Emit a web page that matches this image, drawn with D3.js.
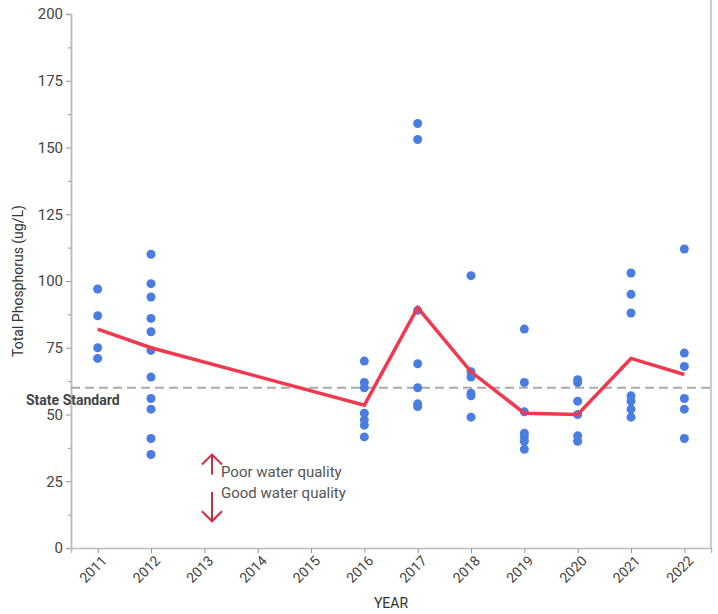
<!DOCTYPE html>
<html><head><meta charset="utf-8">
<script src="https://cdn.jsdelivr.net/npm/d3@7"></script>
<style>body{margin:0;background:#fff}text{font-family:Roboto,"Liberation Sans",sans-serif}</style>
</head><body><svg id="c" width="718" height="614"></svg>
<script>
var years = [2011,2012,2013,2014,2015,2016,2017,2018,2019,2020,2021,2022];
var samples = {
  2011: [97,87,75,71],
  2012: [110,99,94,86,81,74,64,56,52,41,35],
  2016: [70,62,60,50.5,48,46,41.6],
  2017: [159,153,89,69,60,54,53],
  2018: [102,66,64,58,57,49],
  2019: [82,62,51,43,41.6,40,37],
  2020: [63,62,55,50,42,40],
  2021: [103,95,88,57,55,52,49],
  2022: [112,73,68,56,52,41]
};
var meanYears = [2011,2012,2016,2017,2018,2019,2020,2021,2022];
var meanVals = [82,75,53.5,90,66,50.5,50,71,65];
var standard = 60;

var svg = d3.select("#c");
var x = d3.scaleLinear().domain([2010.5,2022.5]).range([71,711]);
var y = d3.scaleLinear().domain([0,200]).range([548,14]);

// axes
var yAx = svg.append("g").attr("transform","translate(71,0)")
  .call(d3.axisLeft(y).tickValues(d3.range(0,201,25)).tickSize(5));
svg.append("g").attr("transform","translate(71,0)")
  .call(d3.axisLeft(y).tickValues(d3.range(12.5,200,25)).tickSize(3).tickFormat(""));
var xAx = svg.append("g").attr("transform","translate(0,548)")
  .call(d3.axisBottom(x).tickValues(years).tickFormat(d3.format("d")).tickSize(5));
svg.selectAll(".domain").attr("stroke","#bbb").attr("stroke-width",1.5);
svg.selectAll(".tick line").attr("stroke","#999");
yAx.selectAll("text").attr("font-size",15).attr("fill","#444");
xAx.selectAll("text").attr("font-size",14).attr("fill","#444")
  .attr("transform","rotate(-45)").attr("text-anchor","end").attr("dx","-0.2em").attr("dy","0.6em");
svg.append("line").attr("x1",711).attr("x2",711).attr("y1",0).attr("y2",548)
  .attr("stroke","#bbb").attr("stroke-width",1.5);

svg.append("text").attr("transform","translate(23,281) rotate(-90)")
  .attr("text-anchor","middle").attr("font-size",14).attr("fill","#333").text("Total Phosphorus (ug/L)");
svg.append("text").attr("x",391).attr("y",608).attr("text-anchor","middle")
  .attr("font-size",14).attr("fill","#333").text("YEAR");

// standard
svg.append("line").attr("x1",71).attr("x2",711).attr("y1",y(standard)).attr("y2",y(standard))
  .attr("stroke","#aaa").attr("stroke-width",2).attr("stroke-dasharray","9,5");
svg.append("text").attr("x",26).attr("y",y(standard)+17).attr("font-size",14)
  .attr("font-weight","bold").attr("fill","#444").text("State Standard");

// dots
var pts = [];
Object.keys(samples).forEach(function(k){ samples[k].forEach(function(v){ pts.push([+k,v]); }); });
svg.append("g").selectAll("circle").data(pts).enter().append("circle")
  .attr("cx",function(d){return x(d[0]);}).attr("cy",function(d){return y(d[1]);})
  .attr("r",4.5).attr("fill","#4a7de0");

// mean line
svg.append("path").datum(d3.zip(meanYears,meanVals))
  .attr("d",d3.line().x(function(d){return x(d[0]);}).y(function(d){return y(d[1]);}))
  .attr("fill","none").attr("stroke","#f0384f").attr("stroke-width",3.5);

// quality arrows
var ax = 212;
var arr = svg.append("g").attr("stroke","#d42a3a").attr("stroke-width",2).attr("fill","none");
arr.append("line").attr("x1",ax).attr("x2",ax).attr("y1",y(35)).attr("y2",y(27.5));
arr.append("path").attr("d","M"+(ax-10)+","+(y(35)+10)+"L"+ax+","+y(35)+"L"+(ax+10)+","+(y(35)+10));
arr.append("line").attr("x1",ax).attr("x2",ax).attr("y1",y(21)).attr("y2",y(10));
arr.append("path").attr("d","M"+(ax-10)+","+(y(10)-10)+"L"+ax+","+y(10)+"L"+(ax+10)+","+(y(10)-10));
svg.append("text").attr("x",221).attr("y",y(28.5)+5).attr("font-size",15).attr("fill","#555").text("Poor water quality");
svg.append("text").attr("x",221).attr("y",y(20.5)+5).attr("font-size",15).attr("fill","#555").text("Good water quality");
</script></body></html>
